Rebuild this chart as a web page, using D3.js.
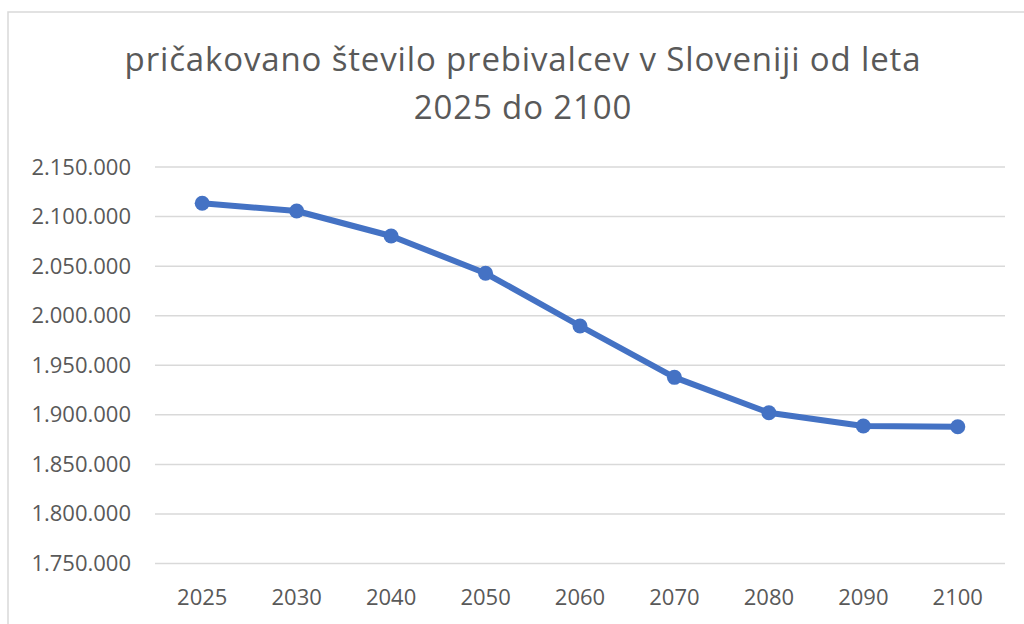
<!DOCTYPE html>
<html>
<head>
<meta charset="utf-8">
<script src="https://cdn.jsdelivr.net/npm/d3@7"></script>
<style>
  body { margin: 0; background: #fff; }
  svg { display: block; font-family: "Open Sans", sans-serif; }
</style>
</head>
<body>
<svg id="chart"></svg>
<script>
// data
const years = ['2025', '2030', '2040', '2050', '2060', '2070', '2080', '2090', '2100'];
const population = [2113400, 2105600, 2080400, 2042800, 1989600, 1937800, 1902100, 1888700, 1888000];
const yTicks = [1750000, 1800000, 1850000, 1900000, 1950000, 2000000, 2050000, 2100000, 2150000];
const titleLines = ['pričakovano število prebivalcev v Sloveniji od leta', '2025 do 2100'];

const w = 1024;
const h = 624;
const margin = {top: 167, right: 19, bottom: 60, left: 155};

const svg = d3.select('#chart')
  .attr('width', w)
  .attr('height', h);

// chart frame (right and bottom edges are outside the screenshot)
svg.append('rect')
  .attr('x', 8).attr('y', 12)
  .attr('width', 1100).attr('height', 700)
  .attr('fill', 'none')
  .attr('stroke', '#d9d9d9')
  .attr('stroke-width', 1.5);

// title
svg.append('text')
  .attr('text-anchor', 'middle')
  .attr('fill', '#595959')
  .attr('font-size', 33)
  .attr('letter-spacing', 0.85)
  .selectAll('tspan')
  .data(titleLines)
  .enter()
  .append('tspan')
  .attr('x', 523)
  .attr('y', (d, i) => 71 + i * 48)
  .text(d => d);

const x = d3.scaleBand()
  .domain(years)
  .range([margin.left, w - margin.right]);

const y = d3.scaleLinear()
  .domain([1750000, 2150000])
  .range([563.5, margin.top]);

const fmt = v => d3.format(',')(v).replace(/,/g, '.');

// horizontal gridlines
svg.append('g')
  .selectAll('line')
  .data(yTicks)
  .enter()
  .append('line')
  .attr('x1', margin.left)
  .attr('x2', w - margin.right)
  .attr('y1', d => y(d))
  .attr('y2', d => y(d))
  .attr('stroke', '#d9d9d9')
  .attr('stroke-width', 1.5);

// y axis labels
const yAxis = svg.append('g')
  .attr('transform', `translate(${margin.left - 24},0)`)
  .call(d3.axisLeft(y).tickValues(yTicks).tickFormat(fmt).tickSize(0).tickPadding(0));
yAxis.select('.domain').remove();
yAxis.selectAll('text')
  .attr('font-family', '"Open Sans", sans-serif')
  .attr('font-size', 22)
  .attr('fill', '#595959');

// x axis labels
const xAxis = svg.append('g')
  .attr('transform', `translate(0,${y(1750000)})`)
  .call(d3.axisBottom(x).tickSize(0).tickPadding(26));
xAxis.select('.domain').remove();
xAxis.selectAll('text')
  .attr('font-family', '"Open Sans", sans-serif')
  .attr('font-size', 22)
  .attr('fill', '#595959');

const cx = (d, i) => x(years[i]) + x.bandwidth() / 2;

const line = d3.line()
  .x(cx)
  .y(d => y(d));

svg.append('path')
  .datum(population)
  .attr('d', line)
  .attr('fill', 'none')
  .attr('stroke', '#4472c4')
  .attr('stroke-width', 6)
  .attr('stroke-linejoin', 'round')
  .attr('stroke-linecap', 'round');

svg.append('g')
  .selectAll('circle')
  .data(population)
  .enter()
  .append('circle')
  .attr('cx', cx)
  .attr('cy', d => y(d))
  .attr('r', 7.5)
  .attr('fill', '#4472c4');
</script>
</body>
</html>
